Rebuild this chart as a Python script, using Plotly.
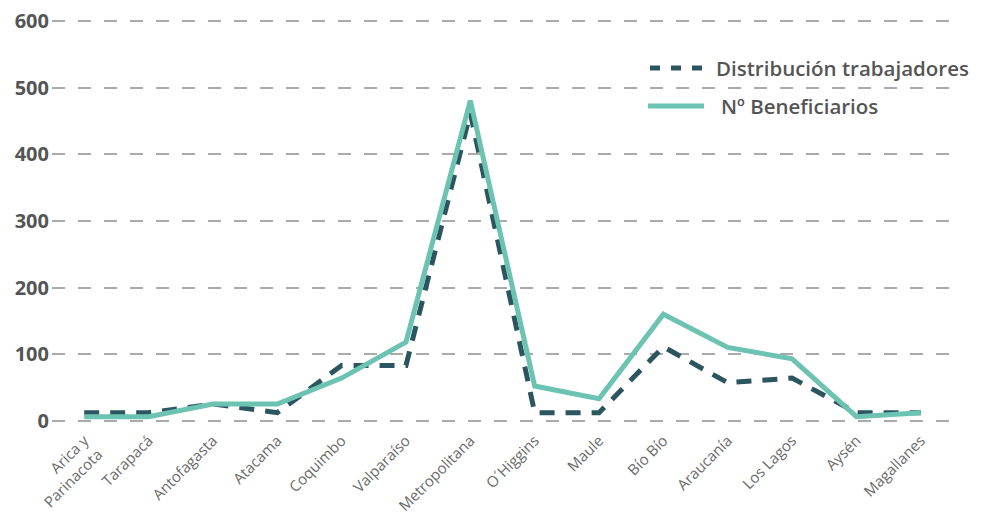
import plotly.graph_objects as go

regiones = ["Arica y<br>Parinacota", "Tarapacá", "Antofagasta", "Atacama", "Coquimbo",
            "Valparaíso", "Metropolitana", "O´Higgins", "Maule", "Bío Bío",
            "Araucanía", "Los Lagos", "Aysén", "Magallanes"]
distribucion_trabajadores = [12, 12, 25, 12, 83, 83, 462, 12, 12, 111, 57, 64, 12, 12]
beneficiarios = [6, 6, 25, 25, 64, 118, 481, 52, 33, 160, 110, 93, 6, 12]
y_ticks = [0, 100, 200, 300, 400, 500, 600]

dark = "#2b5660"
light = "#6cc3b2"
W, H = 982, 519
ml, mr, mt, mb = 52, 29, 20, 97

fig = go.Figure()
fig.add_trace(go.Scatter(x=regiones, y=distribucion_trabajadores, mode="lines",
                         name="Distribución trabajadores",
                         line=dict(color=dark, width=5, dash="15px,11px"),
                         showlegend=False))
fig.add_trace(go.Scatter(x=regiones, y=beneficiarios, mode="lines",
                         name="Nº Beneficiarios",
                         line=dict(color=light, width=5),
                         showlegend=False))

def px(p):
    return (p - ml) / (W - ml - mr)

def py(q):
    return (H - mb - q) / (H - mt - mb)

shapes = [
    dict(type="line", xref="paper", yref="paper", x0=px(650), x1=px(708), y0=py(68), y1=py(68),
         line=dict(color=dark, width=5, dash="10px,11px")),
    dict(type="line", xref="paper", yref="paper", x0=px(648), x1=px(704), y0=py(106), y1=py(106),
         line=dict(color=light, width=5)),
]
legend_font = dict(family="Open Sans", size=20.5, color="#555555", weight=600)
annotations = [
    dict(text="Distribución trabajadores", xref="paper", yref="paper", x=px(714), y=py(68),
         xanchor="left", yanchor="middle", showarrow=False, font=legend_font),
    dict(text="Nº Beneficiarios", xref="paper", yref="paper", x=px(719), y=py(106),
         xanchor="left", yanchor="middle", showarrow=False, font=legend_font),
]

fig.update_layout(
    width=W, height=H,
    margin=dict(l=ml, r=mr, t=mt, b=mb, autoexpand=False),
    paper_bgcolor="white", plot_bgcolor="white",
    shapes=shapes, annotations=annotations,
    xaxis=dict(range=[-0.5, 13.5], showgrid=False, zeroline=False, showline=False,
               tickangle=-45, ticks="", automargin=False, ticklabelstandoff=6,
               tickfont=dict(family="Open Sans", size=15, color="#6a6a6a", weight=400)),
    yaxis=dict(range=[-2, 602], tickvals=y_ticks, showgrid=True, automargin=False,
               gridcolor="#aaaaaa", gridwidth=1.5, griddash="13px,13px",
               zeroline=False, showline=False, ticks="", ticklabelstandoff=2,
               tickfont=dict(family="Open Sans", size=20, color="#555555", weight=700)),
)

fig.write_html("out.html", config={"displayModeBar": False},
               post_script="document.body.style.margin='0px';")
